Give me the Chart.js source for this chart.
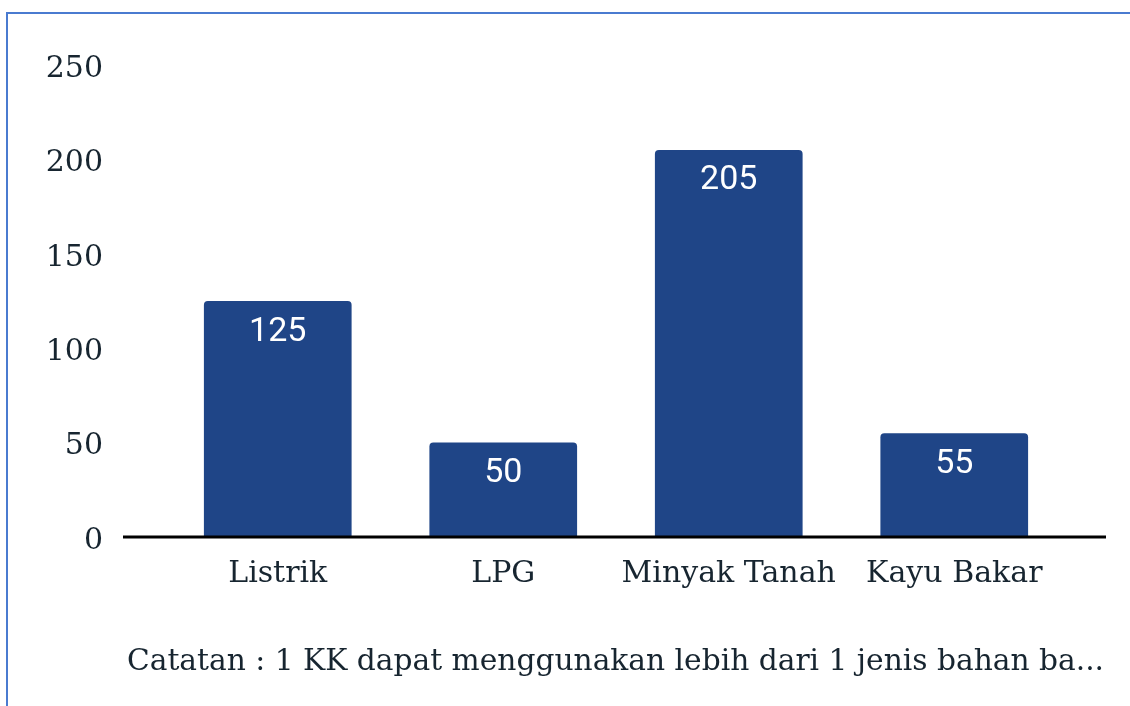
<!DOCTYPE html>
<html>
<head>
<meta charset="utf-8">
<script src="https://cdn.jsdelivr.net/npm/chart.js@4/dist/chart.umd.min.js"></script>
<style>
  html, body { margin: 0; padding: 0; background: #fff; overflow: hidden; }
  #box {
    position: absolute; left: 6px; top: 12px;
    width: 1130px; height: 700px;
    border-top: 2px solid #4a7bd0; border-left: 2px solid #4a7bd0;
  }
  #wrap { position: absolute; left: 0; top: 0; width: 1122px; height: 692px; }
</style>
</head>
<body>
<div id="box"><div id="wrap"><canvas id="chart"></canvas></div></div>
<script>
// data
var categories = ['Listrik', 'LPG', 'Minyak Tanah', 'Kayu Bakar'];
var values = [125, 50, 205, 55];
var yTicks = [0, 50, 100, 150, 200, 250];
var note = 'Catatan : 1 KK dapat menggunakan lebih dari 1 jenis bahan ba...';

var barColor = '#1f4587';
var textColor = '#172530';
var serif = "'DejaVu Serif', serif";

// angka putih di dalam batang
var valueLabels = {
	id: 'valueLabels',
	afterDatasetsDraw: function(chart) {
		var ctx = chart.ctx;
		var meta = chart.getDatasetMeta(0);
		ctx.save();
		ctx.fillStyle = '#ffffff';
		ctx.font = '34px Roboto';
		ctx.textAlign = 'center';
		ctx.textBaseline = 'middle';
		for (var i = 0; i < meta.data.length; i++) {
			var bar = meta.data[i];
			ctx.fillText(String(values[i]), bar.x, bar.y + 31);
		}
		ctx.restore();
	}
};

// garis sumbu x dan catatan
var baseLine = {
	id: 'baseLine',
	afterDraw: function(chart) {
		var ctx = chart.ctx;
		var y0 = chart.scales.y.getPixelForValue(0);
		var a = chart.chartArea;
		ctx.save();
		ctx.strokeStyle = '#000000';
		ctx.lineWidth = 3;
		ctx.beginPath();
		ctx.moveTo(a.left - 42, y0);
		ctx.lineTo(a.right + 39, y0);
		ctx.stroke();
		ctx.fillStyle = textColor;
		ctx.font = '29.7px ' + serif;
		ctx.textAlign = 'left';
		ctx.textBaseline = 'middle';
		ctx.fillText(note, 119, 648);
		ctx.restore();
	}
};

var ctx = document.getElementById('chart').getContext('2d');
var myChart = new Chart(ctx, {
	type: 'bar',
	data: {
		labels: categories,
		datasets: [{
			data: values,
			backgroundColor: barColor,
			borderRadius: { topLeft: 4, topRight: 4 },
			borderSkipped: 'bottom',
			categoryPercentage: 1,
			barPercentage: 0.655
		}]
	},
	options: {
		responsive: true,
		maintainAspectRatio: false,
		animation: false,
		layout: { padding: { top: 51, right: 63, left: 0, bottom: 0 } },
		plugins: {
			legend: { display: false },
			tooltip: { enabled: false }
		},
		scales: {
			x: {
				grid: { display: false, drawTicks: false },
				border: { display: false },
				ticks: {
					color: textColor,
					font: { family: serif, size: 30 },
					padding: 19,
					maxRotation: 0,
					autoSkip: false
				},
				afterFit: function(scale) { scale.height = 169; }
			},
			y: {
				min: 0,
				max: 250,
				grid: { display: false, drawTicks: false },
				border: { display: false },
				afterBuildTicks: function(scale) {
					scale.ticks = yTicks.map(function(v) { return { value: v }; });
				},
				ticks: {
					color: textColor,
					font: { family: serif, size: 30 },
					padding: 62,
					labelOffset: 4
				},
				afterFit: function(scale) {
					scale.width = 157;
					scale.paddingTop = 0;
					scale.paddingBottom = 0;
				}
			}
		}
	},
	plugins: [valueLabels, baseLine]
});
</script>
</body>
</html>
